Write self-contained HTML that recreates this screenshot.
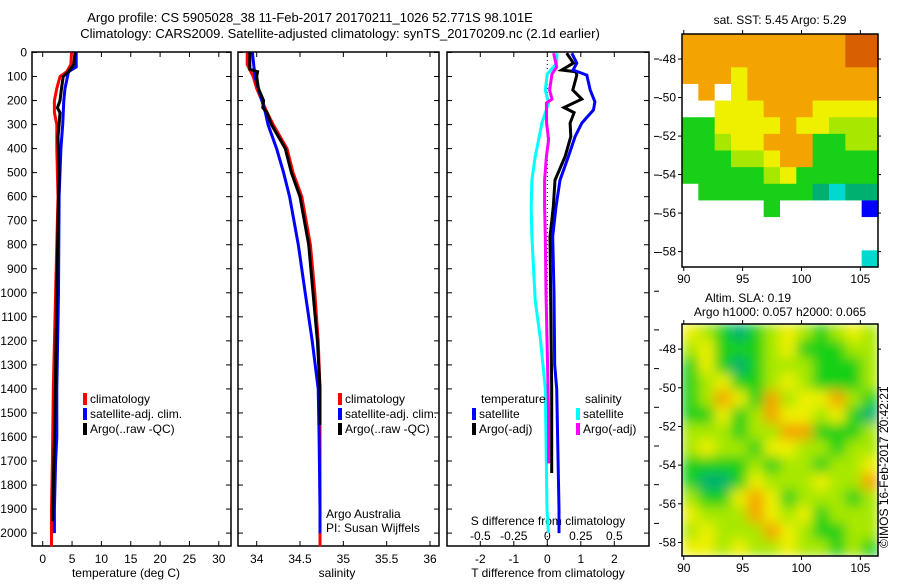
<!DOCTYPE html>
<html><head><meta charset="utf-8"><style>
body{margin:0;background:#fff;width:900px;height:580px;overflow:hidden}
svg{font-family:"Liberation Sans",sans-serif;font-size:12px}
</style></head><body>
<svg id="fig" width="900" height="580" viewBox="0 0 900 580" xmlns="http://www.w3.org/2000/svg">
<defs>
<filter id="blur" x="0" y="0" width="1" height="1"><feGaussianBlur stdDeviation="6" edgeMode="duplicate"/></filter>
<clipPath id="clip2"><rect x="682" y="324" width="196" height="232"/></clipPath>
</defs>
<text x="310" y="22" text-anchor="middle" font-size="13">Argo profile: CS 5905028_38 11-Feb-2017 20170211_1026 52.771S 98.101E</text>
<text x="340" y="38" text-anchor="middle" font-size="13">Climatology: CARS2009. Satellite-adjusted climatology: synTS_20170209.nc (2.1d earlier)</text>
<g id="g1"></g>
<g id="g2"></g>
<g id="g3"></g>
<g id="m1"></g>
<g id="m2"></g>
<text x="780" y="24" text-anchor="middle">sat. SST: 5.45 Argo: 5.29</text>
<text x="748" y="302" text-anchor="middle">Altim. SLA: 0.19</text>
<text x="780" y="316" text-anchor="middle">Argo h1000: 0.057 h2000: 0.065</text>
<text transform="translate(888,548) rotate(-90)" font-size="12">©IMOS 16-Feb-2017 20:42:21</text>
</svg>
<script>
// ---- data ----
const depthTicks=[0,100,200,300,400,500,600,700,800,900,1000,1100,1200,1300,1400,1500,1600,1700,1800,1900,2000];
const tTicks=[0,5,10,15,20,25,30];
const sTicks=[34,34.5,35,35.5,36];
const dtTicks=[-2,-1,0,1,2];
const dsTicks=[-0.5,-0.25,0,0.25,0.5];
const dsTickLabels=["-0.5","-0.25","0","0.25","0.5"];
const tClimD=[0,50,80,100,150,200,250,300,400,500,600,1000,1400,1700,1900,2000,2055];
const tClimV=[4.9,4.8,4.1,2.95,2.4,2.0,2.0,2.4,2.4,2.5,2.6,2.2,1.8,1.65,1.5,1.5,1.5];
const tSatD=[0,60,80,150,200,300,400,500,600,1000,1400,1600,1700,1900,2000];
const tSatV=[5.7,5.7,4.4,3.8,3.6,3.4,3.1,2.95,2.8,2.7,2.4,2.4,2.2,2.0,2.0];
const tArgoD=[0,50,80,100,150,200,230,250,300,350,500,600,1000,1500,1800,1950];
const tArgoV=[5.5,5.3,4.4,3.5,3.2,2.95,2.5,2.95,2.8,2.6,2.8,2.7,2.4,2.1,1.8,1.7];
const sClimD=[0,50,100,150,200,250,300,350,400,500,600,800,1000,1200,1400,2000,2055];
const sClimV=[33.89,33.89,33.96,34.0,34.06,34.12,34.19,34.27,34.35,34.42,34.52,34.62,34.67,34.71,34.73,34.73,34.73];
const sSatD=[0,100,200,250,300,400,500,600,800,1000,1200,1400,1600,1900,2000];
const sSatV=[33.95,33.98,34.06,34.10,34.13,34.23,34.31,34.38,34.48,34.56,34.64,34.71,34.72,34.73,34.73];
const sArgoD=[0,70,80,100,150,200,230,250,300,400,500,600,800,1000,1200,1400,1550];
const sArgoV=[33.92,33.92,34.01,34.0,34.02,34.08,34.07,34.12,34.17,34.33,34.40,34.5,34.6,34.65,34.7,34.73,34.73];
const dtSatD=[3,44,73,94,156,205,239,294,350,433,531,642,766,1000,1300,1400,1900,2000];
const dtSatV=[0.73,0.88,0.77,1.18,1.28,1.42,1.38,1.03,0.83,0.63,0.38,0.26,0.16,0.2,0.22,0.28,0.35,0.35];
const dtArgoD=[3,44,73,80,94,156,194,229,250,294,350,433,531,642,766,1000,1400,1750];
const dtArgoV=[0.58,0.78,0.43,0.85,0.88,0.76,1.03,0.5,0.8,0.68,0.7,0.53,0.23,0.18,0.08,0.1,0.13,0.13];
const dsSatD=[3,44,90,156,210,294,364,433,531,642,766,1030,1200,1400,1900,2000];
const dsSatV=[0.072,0.07,0.0,-0.015,0.01,-0.04,-0.065,-0.09,-0.115,-0.12,-0.115,-0.09,-0.05,-0.015,-0.002,0.008];
const dsArgoD=[3,60,90,156,194,210,294,364,433,531,642,766,1000,1500,1710];
const dsArgoV=[0.047,0.07,0.035,0.017,0.035,-0.007,-0.005,0.01,-0.007,-0.02,-0.02,-0.015,-0.01,0.01,0.01];
const latTicks=[-48,-50,-52,-54,-56,-58];
const lonTicks=[90,95,100,105];
const sstGrid=[
[8,8,8,8,8,8,8,8,8,8,9,9],
[8,8,8,8,8,8,8,8,8,8,9,9],
[8,8,8,7,8,8,8,8,8,8,8,8],
[0,8,0,7,8,8,8,8,8,8,8,8],
[0,0,7,7,7,8,8,8,7,7,7,7],
[5,5,7,7,7,7,8,7,7,6,6,6],
[5,5,6,7,7,8,8,8,5,5,6,6],
[5,5,5,6,6,7,8,8,5,5,5,5],
[5,5,5,5,5,6,7,5,5,5,5,5],
[0,5,5,5,5,5,5,5,4,3,4,4],
[0,0,0,0,0,5,0,0,0,0,0,2],
[0,0,0,0,0,0,0,0,0,0,0,0],
[0,0,0,0,0,0,0,0,0,0,0,0],
[0,0,0,0,0,0,0,0,0,0,0,3]];
const slaGrid=[
[7,6,5,4,5,6,7,6,5,6,7,6],
[6,7,5,5,5,6,7,5,5,5,6,6],
[5,7,5,4,5,6,6,6,5,5,5,6],
[5,6,7,5,5,6,7,6,5,5,5,6],
[5,6,8,7,5,8,6,7,7,8,6,5],
[5,5,7,5,6,8,7,7,6,7,5,4],
[6,6,6,5,6,6,8,8,5,5,5,6],
[6,7,6,6,5,7,7,6,6,5,6,6],
[5,5,5,5,6,5,6,6,5,6,6,7],
[5,4,4,5,7,6,6,6,7,6,6,8],
[6,5,5,7,8,7,5,6,6,6,5,6],
[7,6,6,6,8,7,6,7,5,6,6,6],
[6,7,6,6,6,8,7,6,5,5,6,6],
[7,7,6,7,6,6,7,6,6,5,6,5]];
const palette=["#ffffff","#00007f","#0000ff","#00d8d0","#00b070","#18d018","#a8e800","#eef000","#f4a400","#d86000"];

// ---- helpers ----
const NS="http://www.w3.org/2000/svg";
function mk(parent,tag,attrs,text){const e=document.createElementNS(NS,tag);for(const k in attrs)e.setAttribute(k,attrs[k]);if(text!==undefined)e.textContent=text;parent.appendChild(e);return e;}
const yD=d=>52.5+0.2403*d;
const xT=t=>42.7+5.87*t;
const xS=s=>256.7+86.65*(s-34);
const xDT=t=>547.3+33.5*t;
const xDS=s=>547.3+134*s;
const PT=52,PB=546;

function panel(g,x0,x1,name){
  const r=mk(g,'rect',{x:x0,y:PT,width:x1-x0,height:PB-PT,fill:'none',stroke:'#000','stroke-width':1.5});
  
  
  depthTicks.forEach(d=>{
    const y=yD(d);
    const t1=mk(g,'line',{x1:x0,x2:x0+5,y1:y,y2:y,stroke:'#000'});
    
    
    const t2=mk(g,'line',{x1:x1-5,x2:x1,y1:y,y2:y,stroke:'#000'});
    
    
  });
}
function xticks(g,vals,labels,fx,yLab){
  vals.forEach((v,i)=>{
    const x=fx(v);
    const l=mk(g,'line',{x1:x,x2:x,y1:PB-5,y2:PB,stroke:'#000'});
    
    
    const l2=mk(g,'line',{x1:x,x2:x,y1:PT,y2:PT+5,stroke:'#000'});
    
    
    const t=mk(g,'text',{x:x,y:yLab,'text-anchor':'middle'},labels[i]);
    
    
  });
}
function prof(g,ds,vs,fx,col,name,w){
  let pts=ds.map((d,i)=>fx(vs[i]).toFixed(1)+','+yD(d).toFixed(1)).join(' ');
  const p=mk(g,'polyline',{points:pts,fill:'none',stroke:col,'stroke-width':w||3,'stroke-linejoin':'miter'});
  
  
}
function legend(g,x,y,items){
  items.forEach((it,i)=>{
    const r=mk(g,'rect',{x:x,y:y+i*15-10,width:4,height:12,fill:it[1]});
    
    
    const t=mk(g,'text',{x:x+7,y:y+i*15},it[0]);
    
    
  });
}

// panel 1
const g1=document.getElementById('g1');
panel(g1,32,231,'temperature');
depthTicks.forEach(d=>{
  const t=mk(g1,'text',{x:27,y:yD(d)+4,'text-anchor':'end'},String(d));
  
  
});
xticks(g1,tTicks,tTicks.map(String),xT,563);
const xl1=mk(g1,'text',{x:126,y:577,'text-anchor':'middle'},'temperature (deg C)');


prof(g1,tClimD,tClimV,xT,'#ff0000','temp-climatology-line');
prof(g1,tSatD,tSatV,xT,'#0000ff','temp-satellite-line');
prof(g1,tArgoD,tArgoV,xT,'#000000','temp-argo-line');
legend(g1,83,403,[['climatology','#ff0000'],['satellite-adj. clim.','#0000ff'],['Argo(..raw -QC)','#000']]);

// panel 2
const g2=document.getElementById('g2');
panel(g2,238,439,'salinity');
xticks(g2,sTicks,sTicks.map(String),xS,563);
const xl2=mk(g2,'text',{x:337,y:577,'text-anchor':'middle'},'salinity');


prof(g2,sClimD,sClimV,xS,'#ff0000','sal-climatology-line');
prof(g2,sSatD,sSatV,xS,'#0000ff','sal-satellite-line');
prof(g2,sArgoD,sArgoV,xS,'#000000','sal-argo-line');
legend(g2,338,403,[['climatology','#ff0000'],['satellite-adj. clim.','#0000ff'],['Argo(..raw -QC)','#000']]);
const aa=mk(g2,'text',{x:326,y:518},'Argo Australia');


const pi=mk(g2,'text',{x:326,y:532},'PI: Susan Wijffels');



// panel 3
const g3=document.getElementById('g3');
panel(g3,447,649,'difference');
xticks(g3,dtTicks,dtTicks.map(String),xDT,563);
dsTicks.forEach((v,i)=>{
  const t=mk(g3,'text',{x:xDS(v),y:540,'text-anchor':'middle'},dsTickLabels[i]);
  
  
});
const sdl=mk(g3,'text',{x:548,y:525,'text-anchor':'middle'},'S difference from climatology');


const xl3=mk(g3,'text',{x:548,y:577,'text-anchor':'middle'},'T difference from climatology');


const zl=mk(g3,'line',{x1:xDT(0),x2:xDT(0),y1:PT,y2:PB,stroke:'#000','stroke-dasharray':'1,3'});


prof(g3,dsSatD,dsSatV,xDS,'#00ffff','sdiff-satellite-line');
prof(g3,dsArgoD,dsArgoV,xDS,'#ff00ff','sdiff-argo-line');
prof(g3,dtArgoD,dtArgoV,xDT,'#000000','tdiff-argo-line');
prof(g3,dtSatD,dtSatV,xDT,'#0000ff','tdiff-satellite-line');
const lt=mk(g3,'text',{x:481,y:403},'temperature');


const ls=mk(g3,'text',{x:585,y:403},'salinity');


legend(g3,472,418,[['satellite','#0000ff'],['Argo(-adj)','#000']]);
legend(g3,576,418,[['satellite','#00ffff'],['Argo(-adj)','#ff00ff']]);
for(let y=59;y<550;y+=38.7){
  const t=mk(g3,'line',{x1:654,x2:659,y1:y,y2:y,stroke:'#000'});
  
  
}

// maps
function map(id,grid,y0,y1,latTop,latBot,name,smooth){
  const g=document.getElementById(id);
  const x0=682,x1=878,lon0=89.85,lon1=106.5;
  const fx=l=>x0+(l-lon0)/(lon1-lon0)*(x1-x0);
  const fy=l=>y0+(latTop-l)/(latTop-latBot)*(y1-y0);
  const rows=grid.length,cols=grid[0].length;
  const cw=(x1-x0)/cols,ch=(y1-y0)/rows;
  let cg=g;
  if(smooth){
    const outer=mk(g,'g',{'clip-path':'url(#clip2)'});
    
    
    cg=mk(outer,'g',{filter:'url(#blur)'});
    
    
  }
  grid.forEach((row,r)=>row.forEach((v,c)=>{
    const cell=mk(cg,'rect',{x:(x0+c*cw).toFixed(2),y:(y0+r*ch).toFixed(2),width:(cw+0.6).toFixed(2),height:(ch+0.6).toFixed(2),fill:palette[v]});
    
    
  }));
  const fr=mk(g,'rect',{x:x0,y:y0,width:x1-x0,height:y1-y0,fill:'none',stroke:'#000','stroke-width':1.5});
  
  
  latTicks.forEach(l=>{
    const y=fy(l);
    const t=mk(g,'line',{x1:x0-4,x2:x0,y1:y,y2:y,stroke:'#000'});
    
    
    const t2=mk(g,'line',{x1:x1,x2:x1+3,y1:y,y2:y,stroke:'#000'});
    
    
    const lb=mk(g,'text',{x:x0-6,y:y+4,'text-anchor':'end'},String(l));
    
    
  });
  lonTicks.forEach(l=>{
    const x=fx(l);
    const t=mk(g,'line',{x1:x,x2:x,y1:y1,y2:y1+4,stroke:'#000'});
    
    
    const t2=mk(g,'line',{x1:x,x2:x,y1:y0-4,y2:y0,stroke:'#000'});
    
    
    const lb=mk(g,'text',{x:x,y:y1+16,'text-anchor':'middle'},String(l));
    
    
  });
}
map('m1',sstGrid,34,267,-46.7,-58.8,'sst',false);
map('m2',slaGrid,324,556,-46.7,-58.7,'sla',true);
</script>
</body></html>
